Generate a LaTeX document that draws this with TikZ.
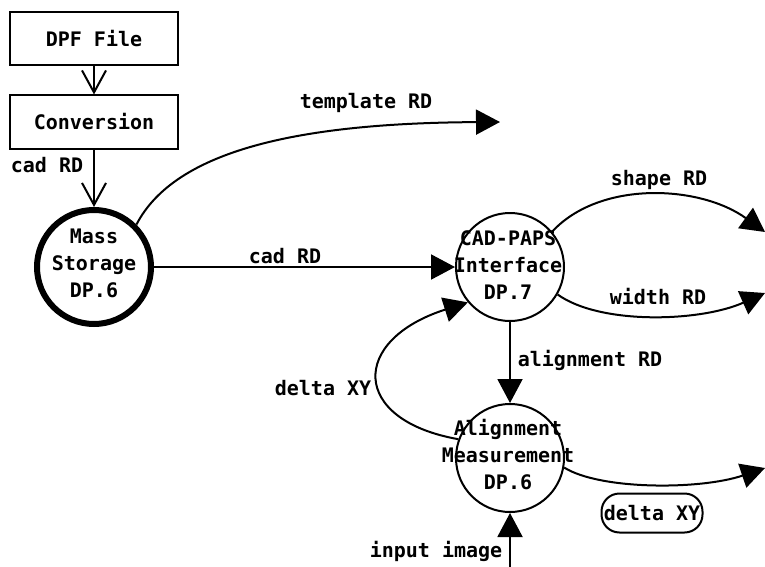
\documentclass[tikz,border=0pt]{standalone}
\usepackage{fontspec}
\setmainfont{DejaVu Sans Mono}
\usetikzlibrary{arrows.meta}
\begin{document}
\begin{tikzpicture}[x=1pt,y=-1pt,
  every node/.style={font=\fontsize{20}{27}\selectfont\bfseries, inner sep=0pt},
  box/.style={draw, line width=2pt, minimum width=168pt, minimum height=53pt},
  proc/.style={draw, circle, line width=2pt, minimum size=108pt},
  store/.style={draw, circle, line width=6pt, minimum size=114pt},
  ptext/.style={align=center},
  flow/.style={line width=2pt, -{Triangle[length=24pt,width=25pt]}},
  vflow/.style={line width=2pt, -{Straight Barb[length=22pt,width=24pt,line width=2pt]}},
  tag/.style={draw, line width=2pt, rounded corners=18pt, minimum width=101pt, minimum height=39pt}
]
\useasboundingbox (0,0) rectangle (765,567);
\fill[white] (0,0) rectangle (765,567);

% external entities
\node[box] (dpf) at (94,39) {DPF File};
\node[box] (conv) at (94,122) {Conversion};

% processes
\node[store] (ms) at (94,267) {};
\node[ptext] (mstxt) at (94,263) {Mass\\Storage\\DP.6};
\node[proc] (cp) at (510,267) {};
\node[ptext] (cptxt) at (508,265) {CAD-PAPS\\Interface\\DP.7};
\node[proc] (am) at (510,458) {};
\node[ptext] (amtxt) at (508,455) {Alignment\\Measurement\\DP.6};

% free ends of the outgoing flows
\coordinate (tplend) at (500,122);
\coordinate (shpend) at (765,232);
\coordinate (widend) at (765,293);
\coordinate (dxyend) at (765,468);
\coordinate (imgsrc) at (510,567);

% flows
\draw[vflow] (dpf.south) -- (conv.north);
\draw[vflow] (conv.south) -- (ms.north);
\draw[flow] (ms.east) -- (cp.west);
\draw[flow] (ms.45) .. controls (175,150) and (300,123) .. (tplend);
\draw[flow] (cp.40) .. controls (600,180) and (700,185) .. (shpend);
\draw[flow] (cp.-30) .. controls (600,325) and (700,322) .. (widend);
\draw[flow] (cp.south) -- (am.north);
\draw[flow] (am.160) .. controls (350,420) and (350,340) .. (cp.220);
\draw[flow] (am.-10) .. controls (600,490) and (700,490) .. (dxyend);
\draw[flow] (imgsrc) -- (am.south);

% flow labels
\node (l1) at (47,165) {cad RD};
\node (l2) at (366,103) {template RD};
\node (l3) at (285,256) {cad RD};
\node (l4) at (659,180) {shape RD};
\node (l5) at (658,297) {width RD};
\node (l6) at (590,360) {alignment RD};
\node (l7) at (323,388) {delta XY};
\node (l8) at (436,551) {input image};
\node[tag] (l9) at (652,513) {delta XY};
\end{tikzpicture}
\end{document}
